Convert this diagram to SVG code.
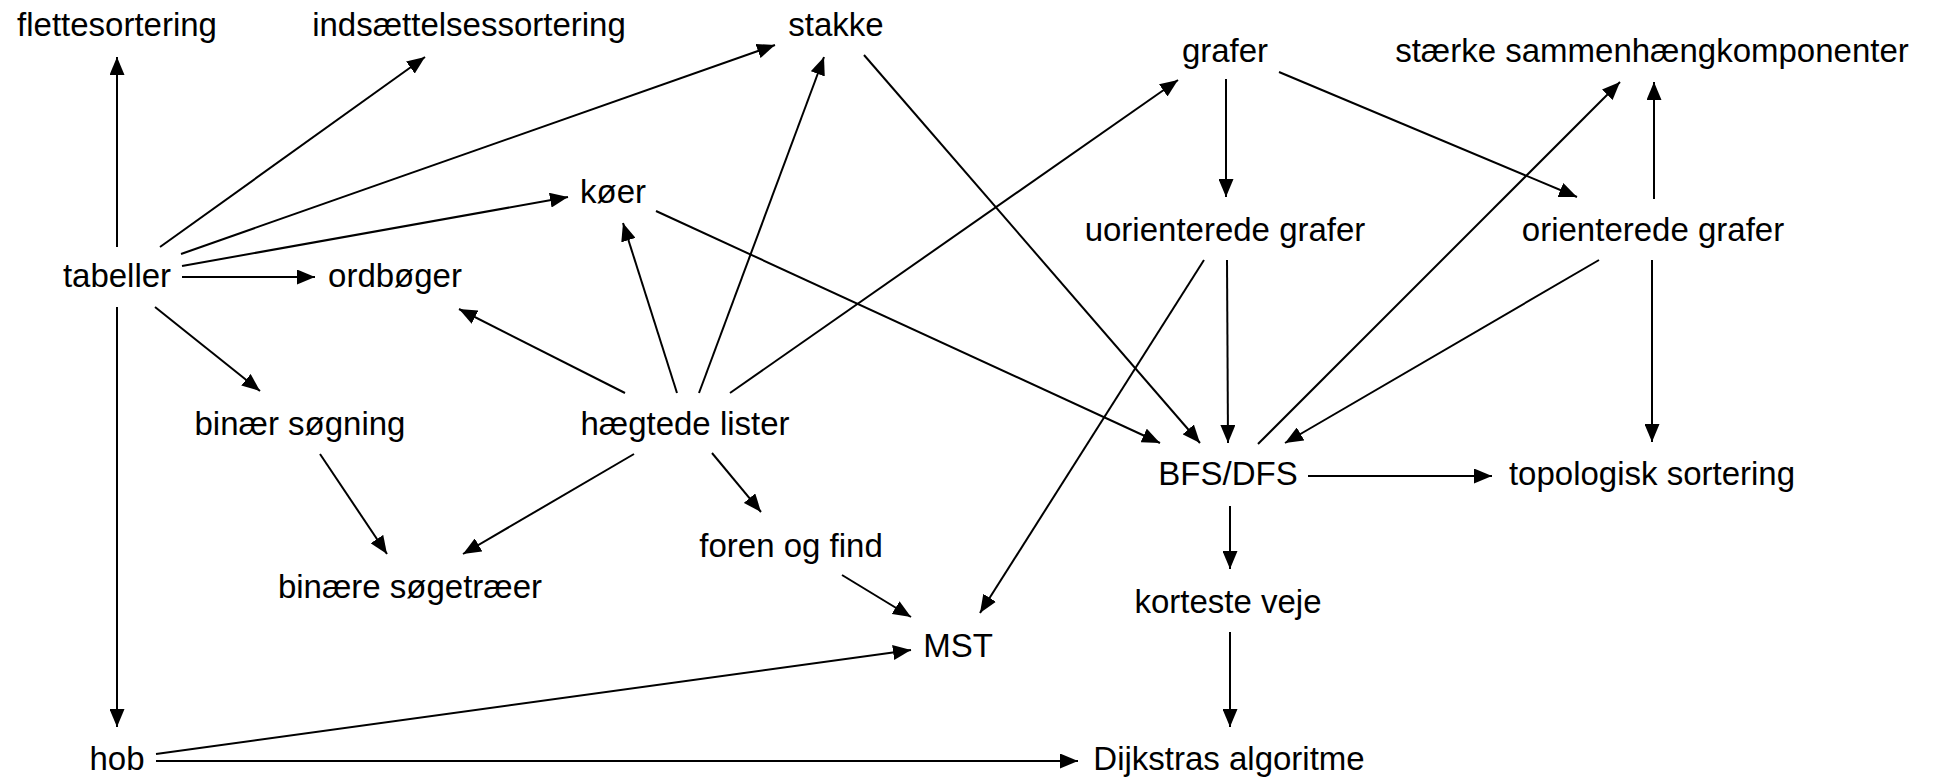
<svg xmlns="http://www.w3.org/2000/svg" width="1936" height="779" viewBox="0 0 1936 779">
<defs>
<style>
text{font-family:"Liberation Sans",Arial,Helvetica,sans-serif;font-size:33px;fill:#000;text-anchor:middle}
.e line{stroke:#000;stroke-width:2;marker-end:url(#ah)}
</style>
<marker id="ah" markerUnits="userSpaceOnUse" markerWidth="18" markerHeight="15" refX="18" refY="7.5" orient="auto" viewBox="0 0 18 15">
<path d="M0,0 L18,7.5 L0,15 z" fill="#000"/>
</marker>
</defs>
<rect width="1936" height="779" fill="#fff"/>
<g id="connectors" class="e">
<line x1="117" y1="247" x2="117" y2="57"/>
<line x1="160" y1="247" x2="425" y2="57"/>
<line x1="181" y1="254" x2="775" y2="45"/>
<line x1="182" y1="266" x2="568" y2="197"/>
<line x1="182" y1="277" x2="315" y2="277"/>
<line x1="117" y1="307" x2="117" y2="727"/>
<line x1="155" y1="307" x2="260" y2="391"/>
<line x1="625" y1="393" x2="459" y2="309"/>
<line x1="677" y1="393" x2="623" y2="223"/>
<line x1="699" y1="393" x2="824" y2="57"/>
<line x1="730" y1="393" x2="1178" y2="80"/>
<line x1="634" y1="454" x2="463" y2="554"/>
<line x1="320" y1="454" x2="387" y2="554"/>
<line x1="712" y1="453" x2="761" y2="512"/>
<line x1="842" y1="575" x2="911" y2="617"/>
<line x1="1204" y1="260" x2="980" y2="613"/>
<line x1="156" y1="754" x2="911" y2="650"/>
<line x1="156" y1="761" x2="1078" y2="761"/>
<line x1="656" y1="211" x2="1160" y2="443"/>
<line x1="864" y1="55" x2="1200" y2="443"/>
<line x1="1227" y1="260" x2="1228" y2="443"/>
<line x1="1258" y1="444" x2="1620" y2="82"/>
<line x1="1599" y1="260" x2="1285" y2="443"/>
<line x1="1654" y1="199" x2="1654" y2="82"/>
<line x1="1652" y1="260" x2="1652" y2="442"/>
<line x1="1226" y1="79" x2="1226" y2="197"/>
<line x1="1279" y1="72" x2="1577" y2="197"/>
<line x1="1308" y1="476" x2="1492" y2="476"/>
<line x1="1230" y1="506" x2="1230" y2="569"/>
<line x1="1230" y1="632" x2="1230" y2="727"/>
</g>
<g id="flettesortering"><text x="117" y="36">flettesortering</text></g>
<g id="indsaettelsessortering"><text x="469" y="36">indsættelsessortering</text></g>
<g id="stakke"><text x="836" y="36">stakke</text></g>
<g id="grafer"><text x="1225" y="62">grafer</text></g>
<g id="staerke"><text x="1652" y="62">stærke sammenhængkomponenter</text></g>
<g id="koeer"><text x="613" y="203">køer</text></g>
<g id="uorienterede"><text x="1225" y="241">uorienterede grafer</text></g>
<g id="orienterede"><text x="1653" y="241">orienterede grafer</text></g>
<g id="tabeller"><text x="117" y="287">tabeller</text></g>
<g id="ordboeger"><text x="395" y="287">ordbøger</text></g>
<g id="binaersoegning"><text x="300" y="435">binær søgning</text></g>
<g id="haegtede"><text x="685" y="435">hægtede lister</text></g>
<g id="bfsdfs"><text x="1228" y="485">BFS/DFS</text></g>
<g id="topologisk"><text x="1652" y="485">topologisk sortering</text></g>
<g id="foren"><text x="791" y="557">foren og find</text></g>
<g id="binaeresoegetraeer"><text x="410" y="598">binære søgetræer</text></g>
<g id="korteste"><text x="1228" y="613">korteste veje</text></g>
<g id="mst"><text x="958" y="657">MST</text></g>
<g id="hob"><text x="117" y="770">hob</text></g>
<g id="dijkstra"><text x="1229" y="770">Dijkstras algoritme</text></g>
</svg>
